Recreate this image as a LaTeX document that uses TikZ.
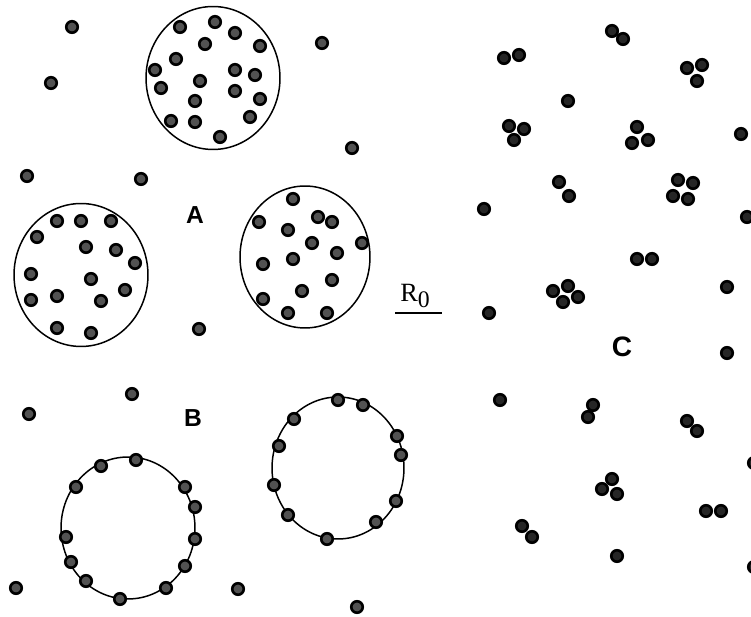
\documentclass[tikz,border=0pt]{standalone}
\usepackage{fontspec}
\setmainfont{Liberation Serif}
\newfontfamily\etiqfont{Liberation Sans}
\usetikzlibrary{positioning}

\tikzset{
  grano/.style={fill=black!68, draw=black, line width=1.5pt},
  granonegro/.style={fill=black!85, draw=black, line width=1.5pt},
  cumulo/.style={line width=0.85pt},
  letra/.style={font=\etiqfont\bfseries\fontsize{14}{16}\selectfont}
}

\begin{document}
\begin{tikzpicture}[x=0.02cm, y=-0.02cm]
\useasboundingbox (0,0) rectangle (751,617);

% Granos sueltos (izquierda)
\foreach \x/\y [count=\i] in {72/27, 51/83, 27/176, 141/179, 322/43, 352/148,
    199/329, 132/394, 29/414, 16/588, 238/589, 357/607} {
    \coordinate (L\i) at (\x,\y);
    \draw[grano] (L\i) circle (0.115cm);
}

% Cúmulo A superior
\coordinate (A1) at (213,78);
\draw[cumulo] (A1) ellipse (1.34cm and 1.43cm);
\foreach \x/\y in {180/27, 215/22, 235/33, 205/44, 260/46, 176/59, 155/70,
    235/70, 255/75, 200/81, 161/88, 235/91, 260/99, 195/101, 250/117,
    171/121, 195/122, 220/137} {
    \draw[grano] (\x,\y) circle (0.115cm);
}

% Cúmulo A izquierdo
\coordinate (A2) at (81,275);
\draw[cumulo] (A2) ellipse (1.34cm and 1.43cm);
\foreach \x/\y in {57/221, 81/221, 111/221, 37/237, 86/247, 116/250, 135/263,
    31/274, 91/279, 125/290, 31/300, 57/296, 101/301, 57/328, 91/333} {
    \draw[grano] (\x,\y) circle (0.115cm);
}

% Cúmulo A derecho
\coordinate (A3) at (305,257);
\draw[cumulo] (A3) ellipse (1.30cm and 1.42cm);
\foreach \x/\y in {293/199, 259/222, 318/217, 332/222, 288/230, 312/243,
    362/243, 337/253, 263/264, 293/259, 332/280, 302/291, 263/299,
    288/313, 327/313} {
    \draw[grano] (\x,\y) circle (0.115cm);
}

% Cáscaras B
\coordinate (B1) at (128,528);
\draw[cumulo] (B1) ellipse (1.34cm and 1.42cm);
\foreach \x/\y in {101/466, 136/460, 76/487, 185/487, 195/507, 66/537,
    195/539, 71/562, 185/566, 86/581, 166/588, 120/599} {
    \draw[grano] (\x,\y) circle (0.115cm);
}

\coordinate (B2) at (338,468);
\draw[cumulo] (B2) ellipse (1.32cm and 1.42cm);
\foreach \x/\y in {338/400, 363/405, 294/419, 397/436, 401/455, 279/446,
    274/485, 396/501, 288/515, 376/522, 327/539} {
    \draw[grano] (\x,\y) circle (0.115cm);
}

% Grupos pequeños C
\foreach \x/\y in {504/58, 519/55, 612/31, 623/39, 687/68, 702/65, 697/81,
    568/101, 509/126, 524/129, 514/140, 637/127, 632/143, 648/140, 741/134,
    559/182, 569/196, 678/180, 693/183, 673/196, 688/199, 484/209, 747/217,
    637/259, 652/259, 553/291, 568/286, 563/302, 578/297, 727/287, 489/313,
    727/353, 500/400, 593/405, 588/417, 687/421, 697/431, 754/463,
    612/479, 602/489, 617/494, 706/511, 721/511, 754/567, 522/526,
    532/537, 617/556} {
    \draw[granonegro] (\x,\y) circle (0.115cm);
}

% Etiquetas
\node[letra] (etiqA) at (195,215) {A};
\node[letra] (etiqB) at (193,418) {B};
\node[font=\etiqfont\bfseries\fontsize{16}{18}\selectfont] (etiqC) at (622,347) {C};

% Escala R0
\node[font=\fontsize{15}{17}\selectfont] (escala) at (415,296) {R\raisebox{-0.5ex}{\fontsize{13.5}{15}\selectfont 0}};
\coordinate (r0a) at (395,313);
\coordinate (r0b) at (442,313);
\draw[line width=1.2pt] (r0a) -- (r0b);

\end{tikzpicture}
\end{document}
